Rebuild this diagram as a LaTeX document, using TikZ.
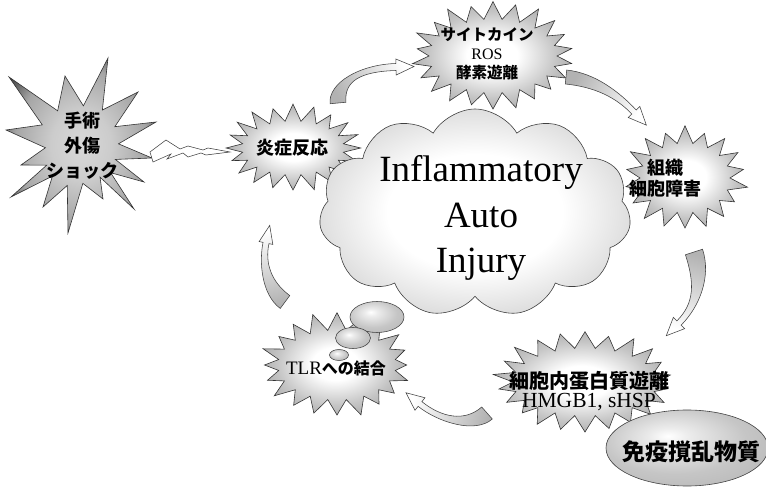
\documentclass[tikz,border=0pt]{standalone}
\usepackage{fontspec}
\setmainfont{Liberation Serif}
\newfontfamily\jp{Noto Sans CJK JP}
\usetikzlibrary{calc,shapes.symbols,shapes.geometric}

\pgfdeclareradialshading{burstshade}{\pgfpoint{0bp}{0bp}}{color(0bp)=(white); color(8bp)=(white); color(20bp)=(gray!45); color(28bp)=(gray!68); color(50bp)=(gray!68)}
\pgfdeclareradialshading{bigshade}{\pgfpoint{0bp}{0bp}}{color(0bp)=(gray!30); color(10bp)=(gray!40); color(22bp)=(gray!70); color(32bp)=(black!82); color(50bp)=(black!82)}
\pgfdeclareradialshading{cloudshade}{\pgfpoint{0bp}{0bp}}{color(0bp)=(white); color(14bp)=(white); color(26bp)=(gray!28); color(34bp)=(gray!42); color(50bp)=(gray!42)}
\pgfdeclareradialshading{blobshade}{\pgfpoint{-6bp}{8bp}}{color(0bp)=(white); color(6bp)=(gray!15); color(22bp)=(gray!45); color(38bp)=(gray!58); color(60bp)=(gray!58)}

\tikzset{
  burstline/.style={draw=black!80, line width=0.6pt, line join=miter},
  lightburst/.style={burstline, shading=burstshade},
  arrowsty/.style={draw=black!75, line width=0.55pt, line join=miter, top color=gray!60, bottom color=white},
  lbl/.style={inner sep=0pt, align=center},
  jpfont/.style n args={2}{font=\jp\bfseries\fontsize{#1}{#2}\selectfont},
  bubble/.style={ellipse, draw=black!75, line width=0.55pt, inner sep=0pt, shade, shading=blobshade},
}

% #1 style, #2 centre, #3 rx, #4 ry, #5 points, #6 depth, #7 jitter
\newcommand\burstshape[7]{%
  \pgfmathsetmacro\bra{#3-#6}%
  \pgfmathsetmacro\brb{#4-#6}%
  \pgfmathtruncatemacro\bnm{#5-1}%
  \shadedraw[#1] ($(#2)+(0,#4)$)
    \foreach \k [evaluate=\k as \aa using {90+\k*360/#5},
                 evaluate=\k as \ab using {90+(\k-0.5)*360/#5},
                 evaluate=\k as \jr using {1+#7*rand},
                 evaluate=\k as \ja using {#3*\jr},
                 evaluate=\k as \jb using {#4*\jr}] in {1,...,\bnm}
      { -- ($(#2)+({\bra*cos(\ab)},{\brb*sin(\ab)})$) -- ($(#2)+({\ja*cos(\aa)},{\jb*sin(\aa)})$) }
    -- ($(#2)+({\bra*cos(90-180/#5)},{\brb*sin(90-180/#5)})$) -- cycle;
}

% #1 tail, #2 c1, #3 c2, #4 neck, #5 tail half width, #6 neck half width, #7 head half width, #8 shading angle
\newcommand\blockarrow[8]{%
  \coordinate (s) at #1; \coordinate (ca) at #2; \coordinate (cb) at #3; \coordinate (n) at #4;
  \coordinate (tp) at ($(n)!-18pt!(cb)$);
  \shadedraw[arrowsty, shading angle=#8]
    ($(s)!#5!90:(ca)$) .. controls ($(ca)!#5!-90:(s)$) and ($(cb)!#6!90:(n)$) .. ($(n)!#6!-90:(cb)$)
    -- ($(n)!#7!-90:(cb)$) -- (tp) -- ($(n)!#7!90:(cb)$) -- ($(n)!#6!90:(cb)$)
    .. controls ($(cb)!#6!-90:(n)$) and ($(ca)!#5!90:(s)$) .. ($(s)!#5!-90:(ca)$) -- cycle;
}

\begin{document}
\begin{tikzpicture}[x=1pt,y=-1pt]
\useasboundingbox (0,0) rectangle (766,489);

% ---- big star: surgery / trauma / shock
\coordinate (bc) at (80,148);
\coordinate (t1) at (108,58);
\coordinate (t2) at (138,92);
\coordinate (t3) at (156,122);
\coordinate (t4) at (152,158);
\coordinate (t5) at (144,182);
\coordinate (t6) at (134,209);
\coordinate (t7) at (103,199);
\coordinate (t8) at (68,233);
\coordinate (t9) at (43,207);
\coordinate (t10) at (11,197);
\coordinate (t11) at (21,165);
\coordinate (t12) at (6,130);
\coordinate (t13) at (9,77);
\coordinate (t14) at (65,76);
\shadedraw[burstline, shading=bigshade] (t1)
  \foreach \i/\j in {1/2,2/3,3/4,4/5,5/6,6/7,7/8,8/9,9/10,10/11,11/12,12/13,13/14,14/1}
  { -- ($0.48*(bc)+0.26*(t\i)+0.26*(t\j)$) -- (t\j) } -- cycle;
\node[lbl, jpfont={18}{25}] (shock) at (82,146) {手術\\外傷\\ショック};

% ---- lightning bolt
\filldraw[fill=white, draw=black!80, line width=0.5pt, line join=miter]
  (150,152) -- (166,140) -- (180,149) -- (188,146) -- (203,150) -- (208,148) -- (230,152)
  -- (206,155) -- (201,153) -- (188,157) -- (183,153) -- (167,159) -- (171,154) -- (153,162) -- cycle;

% ---- starbursts
\pgfmathsetseed{7}
\coordinate (c1) at (293,148);
\burstshape{lightburst}{c1}{66}{42}{20}{15}{0.06}
\coordinate (c2) at (493,56);
\burstshape{lightburst}{c2}{80}{53}{22}{16}{0.06}
\coordinate (c3) at (685,178);
\burstshape{lightburst}{c3}{60}{50}{18}{15}{0.06}
\coordinate (c4) at (337,365);
\burstshape{lightburst}{c4}{74}{50}{20}{15}{0.06}
\coordinate (c5) at (585,382);
\burstshape{lightburst}{c5}{88}{50}{22}{16}{0.06}

\node[lbl, jpfont={18}{22}] (inflam) at (292,148) {炎症反応};
\node[lbl, jpfont={15.5}{19}] (cyto) at (487,54) {サイトカイン\\{\rmfamily\mdseries\fontsize{16}{19}\selectfont ROS}\\酵素遊離};
\node[lbl, jpfont={18}{21}] (tissue) at (665,178) {組織\\細胞障害};
\node[lbl, jpfont={20}{19}] (prot) at (589,391) {細胞内蛋白質遊離\\{\rmfamily\mdseries\fontsize{21.5}{19}\selectfont HMGB1, sHSP}};

% ---- curved block arrows
\blockarrow{(338,103)}{(336,82)}{(360,68)}{(396,67)}{8pt}{3.5pt}{8pt}{116}
\blockarrow{(566,77)}{(595,80)}{(618,95)}{(634,112)}{7pt}{3pt}{8pt}{60}
\blockarrow{(694,252)}{(703,280)}{(697,305)}{(679,323)}{9pt}{3pt}{8pt}{-16}
\blockarrow{(487,413)}{(470,428)}{(440,420)}{(420,404)}{8pt}{3pt}{8pt}{-103}
\blockarrow{(285,302)}{(266,288)}{(262,262)}{(266,243)}{8pt}{3pt}{7pt}{-168}

% ---- cloud
\node[cloud, cloud puffs=11, cloud puff arc=120, cloud ignores aspect,
      minimum width=312pt, minimum height=208pt, draw=black!75, line width=0.6pt,
      shade, shading=cloudshade] (cloud) at (475,213) {};
\node[lbl, font=\fontsize{37}{45.5}\selectfont] (cloudtext) at (481,218) {Inflammatory\\Auto\\Injury};

% ---- thought bubbles
\node[bubble, minimum width=54pt, minimum height=31pt] (b1) at (377,317) {};
\node[bubble, minimum width=35pt, minimum height=21pt] (b2) at (353,338) {};
\node[bubble, minimum width=19pt, minimum height=11pt] (b3) at (339,355) {};
\node[lbl, jpfont={16}{19}] (tlr) at (336,368) {{\rmfamily\mdseries\fontsize{19}{19}\selectfont TLR}への結合};

% ---- immune disturbing substances
\node[ellipse, draw=black!75, line width=0.6pt, shade, shading=blobshade,
      minimum width=162pt, minimum height=76pt, inner sep=0pt] (immune) at (687,448) {};
\node[lbl, jpfont={23}{26}] (immunetext) at (691,452) {免疫撹乱物質};
\end{tikzpicture}
\end{document}
